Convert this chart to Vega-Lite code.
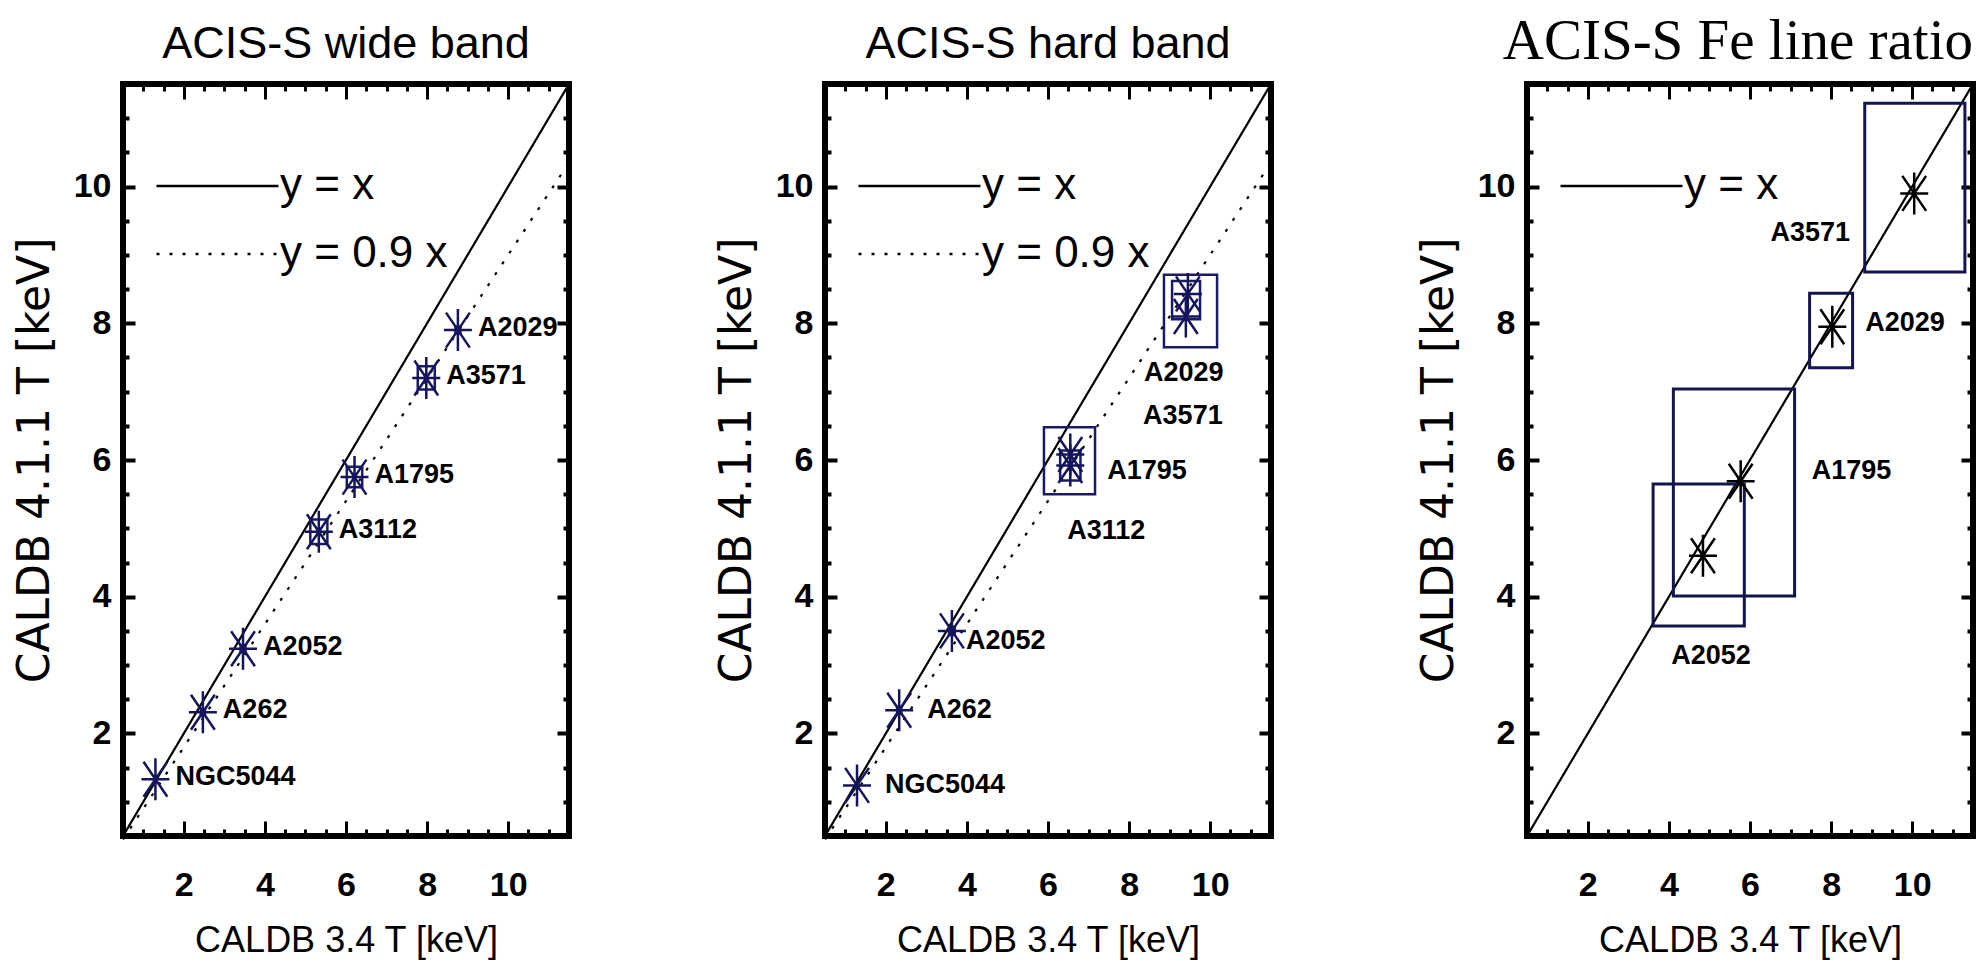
{
  "$schema": "https://vega.github.io/schema/vega-lite/v6.json",
  "background": "white",
  "padding": {"left": 10, "top": 9, "right": 0, "bottom": 0},
  "bounds": "flush",
  "spacing": 256,
  "resolve": {"scale": {"strokeDash": "independent"}, "legend": {"strokeDash": "independent"}},
  "config": {
    "view": {"stroke": "black", "strokeWidth": 6},
    "axis": {"domain": false, "grid": false, "tickColor": "black", "labelColor": "black", "titleColor": "black", "labelFlush": false, "labelOverlap": false}
  },
  "datasets": {
    "wide": [
      {"name": "NGC5044", "t34": 1.3, "t411": 1.33, "x_lo": 1.27, "x_hi": 1.33, "y_lo": 1.3, "y_hi": 1.36},
      {"name": "A262", "t34": 2.47, "t411": 2.31, "x_lo": 2.42, "x_hi": 2.52, "y_lo": 2.27, "y_hi": 2.35},
      {"name": "A2052", "t34": 3.46, "t411": 3.24, "x_lo": 3.4, "x_hi": 3.52, "y_lo": 3.19, "y_hi": 3.29},
      {"name": "A3112", "t34": 5.33, "t411": 4.95, "x_lo": 5.12, "x_hi": 5.54, "y_lo": 4.77, "y_hi": 5.13},
      {"name": "A1795", "t34": 6.21, "t411": 5.75, "x_lo": 6.02, "x_hi": 6.4, "y_lo": 5.6, "y_hi": 5.9},
      {"name": "A3571", "t34": 7.98, "t411": 7.2, "x_lo": 7.77, "x_hi": 8.19, "y_lo": 7.03, "y_hi": 7.37},
      {"name": "A2029", "t34": 8.76, "t411": 7.9, "x_lo": 8.7, "x_hi": 8.82, "y_lo": 7.85, "y_hi": 7.95}
    ],
    "hard": [
      {"name": "NGC5044", "t34": 1.29, "t411": 1.24, "x_lo": 1.26, "x_hi": 1.32, "y_lo": 1.21, "y_hi": 1.27},
      {"name": "A262", "t34": 2.33, "t411": 2.34, "x_lo": 2.28, "x_hi": 2.38, "y_lo": 2.29, "y_hi": 2.39},
      {"name": "A2052", "t34": 3.63, "t411": 3.5, "x_lo": 3.56, "x_hi": 3.7, "y_lo": 3.44, "y_hi": 3.56},
      {"name": "A3112", "t34": 6.55, "t411": 5.92, "x_lo": 6.3, "x_hi": 6.8, "y_lo": 5.7, "y_hi": 6.14},
      {"name": "A1795", "t34": 6.55, "t411": 6.08, "x_lo": 5.9, "x_hi": 7.16, "y_lo": 5.5, "y_hi": 6.48},
      {"name": "A3571", "t34": 9.45, "t411": 8.43, "x_lo": 9.06, "x_hi": 9.75, "y_lo": 8.06, "y_hi": 8.62},
      {"name": "A2029", "t34": 9.4, "t411": 8.1, "x_lo": 8.86, "x_hi": 10.17, "y_lo": 7.65, "y_hi": 8.71}
    ],
    "fe": [
      {"name": "A2052", "t34": 4.84, "t411": 4.6, "x_lo": 3.61, "x_hi": 5.86, "y_lo": 3.57, "y_hi": 5.65},
      {"name": "A1795", "t34": 5.77, "t411": 5.69, "x_lo": 4.11, "x_hi": 7.1, "y_lo": 4.01, "y_hi": 7.04},
      {"name": "A2029", "t34": 8.03, "t411": 7.95, "x_lo": 7.47, "x_hi": 8.53, "y_lo": 7.35, "y_hi": 8.44},
      {"name": "A3571", "t34": 10.05, "t411": 9.9, "x_lo": 8.83, "x_hi": 11.3, "y_lo": 8.75, "y_hi": 11.22}
    ],
    "lines12": [
      {"relation": "y = x", "x": 0.5, "y": 0.5},
      {"relation": "y = x", "x": 11.5, "y": 11.5},
      {"relation": "y = 0.9 x", "x": 0.5, "y": 0.45},
      {"relation": "y = 0.9 x", "x": 11.5, "y": 10.35}
    ],
    "lines3": [
      {"relation": "y = x", "x": 0.5, "y": 0.5},
      {"relation": "y = x", "x": 11.5, "y": 11.5}
    ]
  },
  "hconcat": [
    {
      "width": 446, "height": 752,
      "title": {"text": "ACIS-S wide band", "font": "Liberation Sans", "fontSize": 45, "fontWeight": "normal", "color": "black", "offset": 12.5, "anchor": "middle", "frame": "group"},
      "resolve": {"axis": {"x": "independent", "y": "independent"}},
      "layer": [
        {
          "data": {"name": "lines12"},
          "mark": {"type": "line", "color": "black", "strokeWidth": 2.2},
          "encoding": {
            "x": {"field": "x", "type": "quantitative", "scale": {"domain": [0.5, 11.5], "nice": false, "zero": false},
              "axis": {"orient": "bottom", "values": [2, 4, 6, 8, 10], "tickSize": -15, "tickWidth": 3, "labelPadding": 47, "labelFont": "Liberation Sans", "labelFontSize": 34, "labelFontWeight": "bold", "title": "CALDB 3.4 T [keV]", "titleFont": "Liberation Sans", "titleFontSize": 36, "titleFontWeight": "normal", "titlePadding": 21}},
            "y": {"field": "y", "type": "quantitative", "scale": {"domain": [0.5, 11.5], "nice": false, "zero": false},
              "axis": {"orient": "left", "values": [2, 4, 6, 8, 10], "tickSize": -12, "tickWidth": 4, "labelPadding": 24, "labelFont": "Liberation Sans", "labelFontSize": 34, "labelFontWeight": "bold", "title": "CALDB 4.1.1 T [keV]", "titleFont": "DejaVu Sans", "titleFontSize": 44, "titleFontWeight": "normal", "titlePadding": 16}},
            "strokeDash": {"field": "relation", "type": "nominal", "scale": {"domain": ["y = x", "y = 0.9 x"], "range": [[1, 0], [3, 10]]},
              "legend": {"orient": "none", "legendX": 32, "legendY": 80, "title": null, "padding": 0, "symbolType": "stroke", "symbolSize": 14884, "symbolStrokeWidth": 2.5, "symbolStrokeColor": "black", "labelFont": "Liberation Sans", "labelFontSize": 44, "labelColor": "black", "labelOffset": 0, "labelBaseline": "middle", "labelLimit": 0, "clipHeight": 44, "rowPadding": 24}}
          }
        },
        {
          "data": {"name": "wide"},
          "mark": {"type": "rect", "filled": false, "color": "#1a1a66", "strokeWidth": 2.5},
          "encoding": {
            "x": {"field": "x_lo", "type": "quantitative", "scale": {"domain": [0.5, 11.5], "nice": false, "zero": false},
              "axis": {"orient": "bottom", "values": [1, 1.5, 2.5, 3, 3.5, 4.5, 5, 5.5, 6.5, 7, 7.5, 8.5, 9, 9.5, 10.5, 11], "tickSize": -7, "tickWidth": 3, "labels": false, "title": null}},
            "x2": {"field": "x_hi"},
            "y": {"field": "y_lo", "type": "quantitative", "scale": {"domain": [0.5, 11.5], "nice": false, "zero": false},
              "axis": {"orient": "left", "values": [1, 1.5, 2.5, 3, 3.5, 4.5, 5, 5.5, 6.5, 7, 7.5, 8.5, 9, 9.5, 10.5, 11], "tickSize": -6, "tickWidth": 4, "labels": false, "title": null}},
            "y2": {"field": "y_hi"}
          }
        },
        {
          "data": {"name": "wide"},
          "mark": {"type": "point", "shape": "M-1,0L1,0M0,-1.5L0,1.5M-0.85,-1.25L0.85,1.25M-0.85,1.25L0.85,-1.25", "size": 784, "filled": false, "strokeWidth": 2.5, "color": "#15155e", "opacity": 1},
          "encoding": {
            "x": {"field": "t34", "type": "quantitative", "scale": {"domain": [0.5, 11.5], "nice": false, "zero": false},
              "axis": {"orient": "top", "values": [2, 4, 6, 8, 10], "tickSize": -15, "tickWidth": 3, "labels": false, "title": null}},
            "y": {"field": "t411", "type": "quantitative", "scale": {"domain": [0.5, 11.5], "nice": false, "zero": false},
              "axis": {"orient": "right", "values": [2, 4, 6, 8, 10], "tickSize": -12, "tickWidth": 4, "labels": false, "title": null}}
          }
        },
        {
          "data": {"name": "wide"},
          "mark": {"type": "text", "font": "Liberation Sans", "fontSize": 27, "fontWeight": "bold", "color": "black", "align": "left", "baseline": "middle", "dx": 20, "dy": -2},
          "encoding": {
            "x": {"field": "t34", "type": "quantitative", "scale": {"domain": [0.5, 11.5], "nice": false, "zero": false},
              "axis": {"orient": "top", "values": [1, 1.5, 2.5, 3, 3.5, 4.5, 5, 5.5, 6.5, 7, 7.5, 8.5, 9, 9.5, 10.5, 11], "tickSize": -7, "tickWidth": 3, "labels": false, "title": null}},
            "y": {"field": "t411", "type": "quantitative", "scale": {"domain": [0.5, 11.5], "nice": false, "zero": false},
              "axis": {"orient": "right", "values": [1, 1.5, 2.5, 3, 3.5, 4.5, 5, 5.5, 6.5, 7, 7.5, 8.5, 9, 9.5, 10.5, 11], "tickSize": -6, "tickWidth": 4, "labels": false, "title": null}},
            "text": {"field": "name"}
          }
        }
      ]
    },
    {
      "width": 446, "height": 752,
      "title": {"text": "ACIS-S hard band", "font": "Liberation Sans", "fontSize": 45, "fontWeight": "normal", "color": "black", "offset": 12.5, "anchor": "middle", "frame": "group"},
      "resolve": {"axis": {"x": "independent", "y": "independent"}},
      "layer": [
        {
          "data": {"name": "lines12"},
          "mark": {"type": "line", "color": "black", "strokeWidth": 2.2},
          "encoding": {
            "x": {"field": "x", "type": "quantitative", "scale": {"domain": [0.5, 11.5], "nice": false, "zero": false},
              "axis": {"orient": "bottom", "values": [2, 4, 6, 8, 10], "tickSize": -15, "tickWidth": 3, "labelPadding": 47, "labelFont": "Liberation Sans", "labelFontSize": 34, "labelFontWeight": "bold", "title": "CALDB 3.4 T [keV]", "titleFont": "Liberation Sans", "titleFontSize": 36, "titleFontWeight": "normal", "titlePadding": 21}},
            "y": {"field": "y", "type": "quantitative", "scale": {"domain": [0.5, 11.5], "nice": false, "zero": false},
              "axis": {"orient": "left", "values": [2, 4, 6, 8, 10], "tickSize": -12, "tickWidth": 4, "labelPadding": 24, "labelFont": "Liberation Sans", "labelFontSize": 34, "labelFontWeight": "bold", "title": "CALDB 4.1.1 T [keV]", "titleFont": "DejaVu Sans", "titleFontSize": 44, "titleFontWeight": "normal", "titlePadding": 16}},
            "strokeDash": {"field": "relation", "type": "nominal", "scale": {"domain": ["y = x", "y = 0.9 x"], "range": [[1, 0], [3, 10]]},
              "legend": {"orient": "none", "legendX": 32, "legendY": 80, "title": null, "padding": 0, "symbolType": "stroke", "symbolSize": 14884, "symbolStrokeWidth": 2.5, "symbolStrokeColor": "black", "labelFont": "Liberation Sans", "labelFontSize": 44, "labelColor": "black", "labelOffset": 0, "labelBaseline": "middle", "labelLimit": 0, "clipHeight": 44, "rowPadding": 24}}
          }
        },
        {
          "data": {"name": "hard"},
          "mark": {"type": "rect", "filled": false, "color": "#1a1a66", "strokeWidth": 2.5},
          "encoding": {
            "x": {"field": "x_lo", "type": "quantitative", "scale": {"domain": [0.5, 11.5], "nice": false, "zero": false},
              "axis": {"orient": "bottom", "values": [1, 1.5, 2.5, 3, 3.5, 4.5, 5, 5.5, 6.5, 7, 7.5, 8.5, 9, 9.5, 10.5, 11], "tickSize": -7, "tickWidth": 3, "labels": false, "title": null}},
            "x2": {"field": "x_hi"},
            "y": {"field": "y_lo", "type": "quantitative", "scale": {"domain": [0.5, 11.5], "nice": false, "zero": false},
              "axis": {"orient": "left", "values": [1, 1.5, 2.5, 3, 3.5, 4.5, 5, 5.5, 6.5, 7, 7.5, 8.5, 9, 9.5, 10.5, 11], "tickSize": -6, "tickWidth": 4, "labels": false, "title": null}},
            "y2": {"field": "y_hi"}
          }
        },
        {
          "data": {"name": "hard"},
          "mark": {"type": "point", "shape": "M-1,0L1,0M0,-1.5L0,1.5M-0.85,-1.25L0.85,1.25M-0.85,1.25L0.85,-1.25", "size": 784, "filled": false, "strokeWidth": 2.5, "color": "#15155e", "opacity": 1},
          "encoding": {
            "x": {"field": "t34", "type": "quantitative", "scale": {"domain": [0.5, 11.5], "nice": false, "zero": false},
              "axis": {"orient": "top", "values": [2, 4, 6, 8, 10], "tickSize": -15, "tickWidth": 3, "labels": false, "title": null}},
            "y": {"field": "t411", "type": "quantitative", "scale": {"domain": [0.5, 11.5], "nice": false, "zero": false},
              "axis": {"orient": "right", "values": [2, 4, 6, 8, 10], "tickSize": -12, "tickWidth": 4, "labels": false, "title": null}}
          }
        },
        {
          "data": {"name": "hard"},
          "transform": [{"filter": {"field": "name", "oneOf": ["NGC5044", "A262"]}}],
          "mark": {"type": "text", "font": "Liberation Sans", "fontSize": 27, "fontWeight": "bold", "color": "black", "align": "left", "baseline": "middle", "dx": 28},
          "encoding": {
            "x": {"field": "t34", "type": "quantitative", "scale": {"domain": [0.5, 11.5], "nice": false, "zero": false},
              "axis": {"orient": "top", "values": [1, 1.5, 2.5, 3, 3.5, 4.5, 5, 5.5, 6.5, 7, 7.5, 8.5, 9, 9.5, 10.5, 11], "tickSize": -7, "tickWidth": 3, "labels": false, "title": null}},
            "y": {"field": "t411", "type": "quantitative", "scale": {"domain": [0.5, 11.5], "nice": false, "zero": false},
              "axis": {"orient": "right", "values": [1, 1.5, 2.5, 3, 3.5, 4.5, 5, 5.5, 6.5, 7, 7.5, 8.5, 9, 9.5, 10.5, 11], "tickSize": -6, "tickWidth": 4, "labels": false, "title": null}},
            "text": {"field": "name"}
          }
        },
        {
          "data": {"name": "hard"},
          "transform": [{"filter": {"field": "name", "equal": "A2052"}}],
          "mark": {"type": "text", "font": "Liberation Sans", "fontSize": 27, "fontWeight": "bold", "color": "black", "align": "left", "baseline": "middle", "dx": 14, "dy": 10},
          "encoding": {
            "x": {"field": "t34", "type": "quantitative", "scale": {"domain": [0.5, 11.5], "nice": false, "zero": false}, "axis": null},
            "y": {"field": "t411", "type": "quantitative", "scale": {"domain": [0.5, 11.5], "nice": false, "zero": false}, "axis": null},
            "text": {"field": "name"}
          }
        },
        {
          "data": {"name": "hard"},
          "transform": [{"filter": {"field": "name", "equal": "A1795"}}],
          "mark": {"type": "text", "font": "Liberation Sans", "fontSize": 27, "fontWeight": "bold", "color": "black", "align": "left", "baseline": "middle", "dx": 37, "dy": 16},
          "encoding": {
            "x": {"field": "t34", "type": "quantitative", "scale": {"domain": [0.5, 11.5], "nice": false, "zero": false}, "axis": null},
            "y": {"field": "t411", "type": "quantitative", "scale": {"domain": [0.5, 11.5], "nice": false, "zero": false}, "axis": null},
            "text": {"field": "name"}
          }
        },
        {
          "data": {"name": "hard"},
          "transform": [{"filter": {"field": "name", "equal": "A3112"}}],
          "mark": {"type": "text", "font": "Liberation Sans", "fontSize": 27, "fontWeight": "bold", "color": "black", "align": "center", "baseline": "middle", "dx": 36, "dy": 66},
          "encoding": {
            "x": {"field": "t34", "type": "quantitative", "scale": {"domain": [0.5, 11.5], "nice": false, "zero": false}, "axis": null},
            "y": {"field": "t411", "type": "quantitative", "scale": {"domain": [0.5, 11.5], "nice": false, "zero": false}, "axis": null},
            "text": {"field": "name"}
          }
        },
        {
          "data": {"name": "hard"},
          "transform": [{"filter": {"field": "name", "equal": "A2029"}}],
          "mark": {"type": "text", "font": "Liberation Sans", "fontSize": 27, "fontWeight": "bold", "color": "black", "align": "center", "baseline": "middle", "dx": -2, "dy": 57},
          "encoding": {
            "x": {"field": "t34", "type": "quantitative", "scale": {"domain": [0.5, 11.5], "nice": false, "zero": false}, "axis": null},
            "y": {"field": "t411", "type": "quantitative", "scale": {"domain": [0.5, 11.5], "nice": false, "zero": false}, "axis": null},
            "text": {"field": "name"}
          }
        },
        {
          "data": {"name": "hard"},
          "transform": [{"filter": {"field": "name", "equal": "A3571"}}],
          "mark": {"type": "text", "font": "Liberation Sans", "fontSize": 27, "fontWeight": "bold", "color": "black", "align": "center", "baseline": "middle", "dx": -5, "dy": 122},
          "encoding": {
            "x": {"field": "t34", "type": "quantitative", "scale": {"domain": [0.5, 11.5], "nice": false, "zero": false}, "axis": null},
            "y": {"field": "t411", "type": "quantitative", "scale": {"domain": [0.5, 11.5], "nice": false, "zero": false}, "axis": null},
            "text": {"field": "name"}
          }
        }
      ]
    },
    {
      "width": 446, "height": 752,
      "title": {"text": "ACIS-S Fe line ratio", "font": "Liberation Serif", "fontSize": 57, "fontWeight": "normal", "color": "black", "offset": 9, "anchor": "end", "frame": "group"},
      "resolve": {"axis": {"x": "independent", "y": "independent"}},
      "layer": [
        {
          "data": {"name": "lines3"},
          "mark": {"type": "line", "color": "black", "strokeWidth": 2.2},
          "encoding": {
            "x": {"field": "x", "type": "quantitative", "scale": {"domain": [0.5, 11.5], "nice": false, "zero": false},
              "axis": {"orient": "bottom", "values": [2, 4, 6, 8, 10], "tickSize": -15, "tickWidth": 3, "labelPadding": 47, "labelFont": "Liberation Sans", "labelFontSize": 34, "labelFontWeight": "bold", "title": "CALDB 3.4 T [keV]", "titleFont": "Liberation Sans", "titleFontSize": 36, "titleFontWeight": "normal", "titlePadding": 21}},
            "y": {"field": "y", "type": "quantitative", "scale": {"domain": [0.5, 11.5], "nice": false, "zero": false},
              "axis": {"orient": "left", "values": [2, 4, 6, 8, 10], "tickSize": -12, "tickWidth": 4, "labelPadding": 24, "labelFont": "Liberation Sans", "labelFontSize": 34, "labelFontWeight": "bold", "title": "CALDB 4.1.1 T [keV]", "titleFont": "DejaVu Sans", "titleFontSize": 44, "titleFontWeight": "normal", "titlePadding": 16}},
            "strokeDash": {"field": "relation", "type": "nominal", "scale": {"domain": ["y = x"], "range": [[1, 0]]},
              "legend": {"orient": "none", "legendX": 32, "legendY": 80, "title": null, "padding": 0, "symbolType": "stroke", "symbolSize": 14884, "symbolStrokeWidth": 2.5, "symbolStrokeColor": "black", "labelFont": "Liberation Sans", "labelFontSize": 44, "labelColor": "black", "labelOffset": 0, "labelBaseline": "middle", "labelLimit": 0, "clipHeight": 44, "rowPadding": 24}}
          }
        },
        {
          "data": {"name": "fe"},
          "mark": {"type": "rect", "filled": false, "color": "#14144f", "strokeWidth": 3},
          "encoding": {
            "x": {"field": "x_lo", "type": "quantitative", "scale": {"domain": [0.5, 11.5], "nice": false, "zero": false},
              "axis": {"orient": "bottom", "values": [1, 1.5, 2.5, 3, 3.5, 4.5, 5, 5.5, 6.5, 7, 7.5, 8.5, 9, 9.5, 10.5, 11], "tickSize": -7, "tickWidth": 3, "labels": false, "title": null}},
            "x2": {"field": "x_hi"},
            "y": {"field": "y_lo", "type": "quantitative", "scale": {"domain": [0.5, 11.5], "nice": false, "zero": false},
              "axis": {"orient": "left", "values": [1, 1.5, 2.5, 3, 3.5, 4.5, 5, 5.5, 6.5, 7, 7.5, 8.5, 9, 9.5, 10.5, 11], "tickSize": -6, "tickWidth": 4, "labels": false, "title": null}},
            "y2": {"field": "y_hi"}
          }
        },
        {
          "data": {"name": "fe"},
          "mark": {"type": "point", "shape": "M-1,0L1,0M0,-1.5L0,1.5M-0.85,-1.25L0.85,1.25M-0.85,1.25L0.85,-1.25", "size": 784, "filled": false, "strokeWidth": 2.5, "color": "black", "opacity": 1},
          "encoding": {
            "x": {"field": "t34", "type": "quantitative", "scale": {"domain": [0.5, 11.5], "nice": false, "zero": false},
              "axis": {"orient": "top", "values": [2, 4, 6, 8, 10], "tickSize": -15, "tickWidth": 3, "labels": false, "title": null}},
            "y": {"field": "t411", "type": "quantitative", "scale": {"domain": [0.5, 11.5], "nice": false, "zero": false},
              "axis": {"orient": "right", "values": [2, 4, 6, 8, 10], "tickSize": -12, "tickWidth": 4, "labels": false, "title": null}}
          }
        },
        {
          "data": {"name": "fe"},
          "transform": [{"filter": {"field": "name", "equal": "A3571"}}],
          "mark": {"type": "text", "font": "Liberation Sans", "fontSize": 27, "fontWeight": "bold", "color": "black", "align": "center", "baseline": "middle", "dx": -104, "dy": 40},
          "encoding": {
            "x": {"field": "t34", "type": "quantitative", "scale": {"domain": [0.5, 11.5], "nice": false, "zero": false},
              "axis": {"orient": "top", "values": [1, 1.5, 2.5, 3, 3.5, 4.5, 5, 5.5, 6.5, 7, 7.5, 8.5, 9, 9.5, 10.5, 11], "tickSize": -7, "tickWidth": 3, "labels": false, "title": null}},
            "y": {"field": "t411", "type": "quantitative", "scale": {"domain": [0.5, 11.5], "nice": false, "zero": false},
              "axis": {"orient": "right", "values": [1, 1.5, 2.5, 3, 3.5, 4.5, 5, 5.5, 6.5, 7, 7.5, 8.5, 9, 9.5, 10.5, 11], "tickSize": -6, "tickWidth": 4, "labels": false, "title": null}},
            "text": {"field": "name"}
          }
        },
        {
          "data": {"name": "fe"},
          "transform": [{"filter": {"field": "name", "equal": "A2029"}}],
          "mark": {"type": "text", "font": "Liberation Sans", "fontSize": 27, "fontWeight": "bold", "color": "black", "align": "left", "baseline": "middle", "dx": 33, "dy": -4},
          "encoding": {
            "x": {"field": "t34", "type": "quantitative", "scale": {"domain": [0.5, 11.5], "nice": false, "zero": false}, "axis": null},
            "y": {"field": "t411", "type": "quantitative", "scale": {"domain": [0.5, 11.5], "nice": false, "zero": false}, "axis": null},
            "text": {"field": "name"}
          }
        },
        {
          "data": {"name": "fe"},
          "transform": [{"filter": {"field": "name", "equal": "A1795"}}],
          "mark": {"type": "text", "font": "Liberation Sans", "fontSize": 27, "fontWeight": "bold", "color": "black", "align": "left", "baseline": "middle", "dx": 71, "dy": -10},
          "encoding": {
            "x": {"field": "t34", "type": "quantitative", "scale": {"domain": [0.5, 11.5], "nice": false, "zero": false}, "axis": null},
            "y": {"field": "t411", "type": "quantitative", "scale": {"domain": [0.5, 11.5], "nice": false, "zero": false}, "axis": null},
            "text": {"field": "name"}
          }
        },
        {
          "data": {"name": "fe"},
          "transform": [{"filter": {"field": "name", "equal": "A2052"}}],
          "mark": {"type": "text", "font": "Liberation Sans", "fontSize": 27, "fontWeight": "bold", "color": "black", "align": "center", "baseline": "middle", "dx": 8, "dy": 100},
          "encoding": {
            "x": {"field": "t34", "type": "quantitative", "scale": {"domain": [0.5, 11.5], "nice": false, "zero": false}, "axis": null},
            "y": {"field": "t411", "type": "quantitative", "scale": {"domain": [0.5, 11.5], "nice": false, "zero": false}, "axis": null},
            "text": {"field": "name"}
          }
        }
      ]
    }
  ]
}
